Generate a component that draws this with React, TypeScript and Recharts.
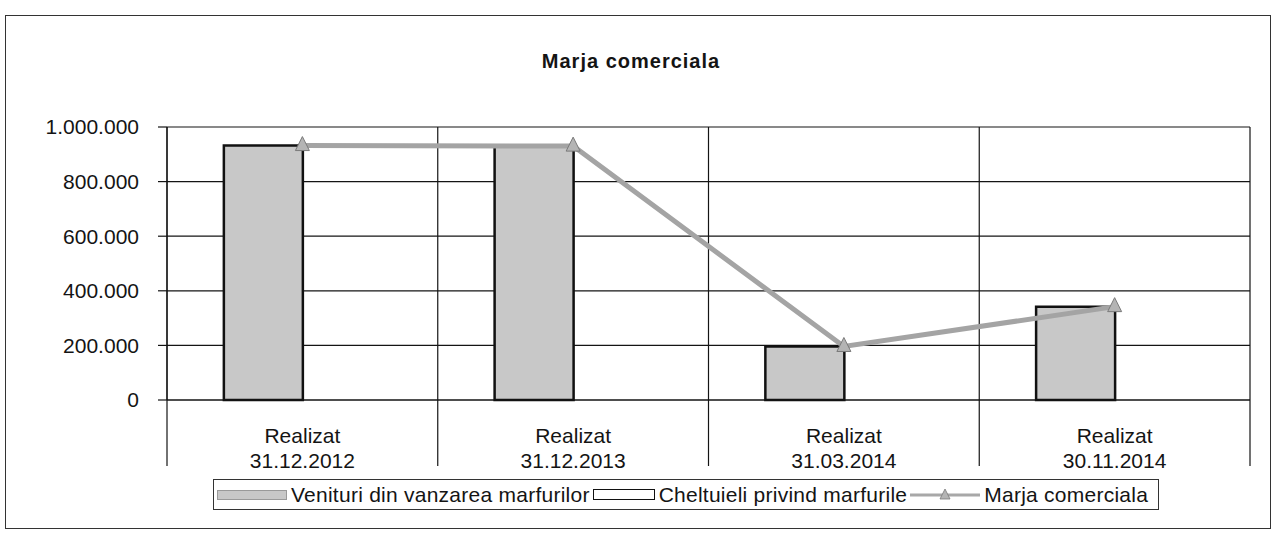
import React from 'react';
import { ComposedChart, Bar, Line, XAxis, YAxis, CartesianGrid } from 'recharts';

const chartTitle = 'Marja comerciala';
const categoryTop = ['Realizat', 'Realizat', 'Realizat', 'Realizat'];
const categoryDates = ['31.12.2012', '31.12.2013', '31.03.2014', '30.11.2014'];
const venituri = [932000, 930000, 196000, 342000];
const cheltuieli = [0, 0, 0, 0];
const marja = [932000, 930000, 196000, 342000];
const yTicks = [0, 200000, 400000, 600000, 800000, 1000000];
const seriesNames = ['Venituri din vanzarea marfurilor', 'Cheltuieli privind marfurile', 'Marja comerciala'];

const data = categoryDates.map((d, i) => ({
  name: d,
  top: categoryTop[i],
  venituri: venituri[i],
  cheltuieli: cheltuieli[i],
  marja: marja[i],
}));

const FONT = '"Liberation Sans", Arial, sans-serif';
const INK = '#141414';

const fmt = (v: number) => String(v).replace(/\B(?=(\d{3})+(?!\d))/g, '.');

const CategoryTick = (props: any) => {
  const { x, y, payload, index, width, visibleTicksCount } = props;
  const step = width / visibleTicksCount;
  const left = x - step / 2;
  const right = x + step / 2;
  return (
    <g>
      <line x1={left} x2={left} y1={y} y2={y + 66} stroke={INK} strokeWidth={1.2} />
      {index === visibleTicksCount - 1 && (
        <line x1={right} x2={right} y1={y} y2={y + 66} stroke={INK} strokeWidth={1.2} />
      )}
      <text x={x} y={y + 43} textAnchor="middle" fontSize={21} fill={INK} fontFamily={FONT}>
        {data[index] ? data[index].top : ''}
      </text>
      <text x={x} y={y + 68} textAnchor="middle" fontSize={21} fill={INK} fontFamily={FONT}>
        {payload.value}
      </text>
    </g>
  );
};

const TriangleDot = (props: any) => {
  const { cx, cy } = props;
  if (cx == null || cy == null) return null;
  return (
    <polygon
      points={`${cx},${cy - 9} ${cx - 7},${cy + 5} ${cx + 7},${cy + 5}`}
      fill="#b4b4b4"
      stroke="#7a7a7a"
      strokeWidth={1}
    />
  );
};

const LegendSwatch = ({ kind }: { kind: number }) => {
  if (kind === 0) {
    return (
      <span style={{ display: 'inline-block', width: 70, height: 10, background: '#c8c8c8', border: '1px solid #9a9a9a', boxSizing: 'border-box' }} />
    );
  }
  if (kind === 1) {
    return (
      <span style={{ display: 'inline-block', width: 62, height: 11, background: '#fff', border: '1.5px solid #111', boxSizing: 'border-box' }} />
    );
  }
  return (
    <svg width={70} height={14} style={{ display: 'inline-block' }}>
      <line x1={0} x2={70} y1={7} y2={7} stroke="#a8a8a8" strokeWidth={3} />
      <polygon points="35,1 30,11 40,11" fill="#b4b4b4" stroke="#7a7a7a" strokeWidth={0.8} />
    </svg>
  );
};

export default function App() {
  return (
    <div style={{ position: 'absolute', left: 0, top: 0, width: 1279, height: 542, background: '#fff', fontFamily: FONT }}>
      <div style={{ position: 'absolute', left: 5, top: 15, width: 1266, height: 514, border: '1px solid #333', boxSizing: 'border-box' }} />
      <div
        style={{
          position: 'absolute',
          left: 0,
          width: 1262,
          top: 48,
          textAlign: 'center',
          fontSize: 20,
          fontWeight: 'bold',
          letterSpacing: 1,
          color: INK,
          lineHeight: '26px',
        }}
      >
        {chartTitle}
      </div>
      <div style={{ position: 'absolute', left: 0, top: 0 }}>
        <ComposedChart
          width={1279}
          height={542}
          data={data}
          margin={{ top: 127, right: 29, bottom: 0, left: 107 }}
          barCategoryGap="21%"
          barGap={0}
        >
          <CartesianGrid
            stroke={INK}
            strokeWidth={1.2}
            verticalCoordinatesGenerator={({ offset }: any) =>
              Array.from({ length: data.length + 1 }, (_, i) => offset.left + (i * offset.width) / data.length)
            }
          />
          <XAxis
            dataKey="name"
            height={142}
            interval={0}
            tickSize={0}
            tickMargin={0}
            tickLine={false}
            axisLine={{ stroke: INK, strokeWidth: 1.2 }}
            tick={<CategoryTick />}
          />
          <YAxis
            width={60}
            domain={[0, 1000000]}
            ticks={yTicks}
            interval={0}
            tickFormatter={fmt}
            tickSize={9}
            tickMargin={19}
            tickLine={{ stroke: INK, strokeWidth: 1.2 }}
            axisLine={{ stroke: INK, strokeWidth: 1.2 }}
            tick={{ fill: INK, fontSize: 21, fontFamily: FONT }}
          />
          <Bar dataKey="venituri" name={seriesNames[0]} fill="#c8c8c8" stroke="#111" strokeWidth={2.5} isAnimationActive={false} />
          <Bar dataKey="cheltuieli" name={seriesNames[1]} fill="#ffffff" stroke="#111" strokeWidth={2.5} isAnimationActive={false} />
          <Line
            dataKey="marja"
            name={seriesNames[2]}
            type="linear"
            stroke="#a4a4a4"
            strokeWidth={5}
            dot={<TriangleDot />}
            activeDot={false}
            isAnimationActive={false}
          />
        </ComposedChart>
      </div>
      <div
        style={{
          position: 'absolute',
          left: 213,
          top: 479,
          height: 31,
          border: '1px solid #333',
          boxSizing: 'border-box',
          display: 'flex',
          alignItems: 'center',
          paddingLeft: 3,
          paddingRight: 10,
          fontSize: 21,
          letterSpacing: 0.25,
          color: INK,
          whiteSpace: 'nowrap',
        }}
      >
        {seriesNames.map((n, i) => (
          <span key={n} style={{ display: 'inline-flex', alignItems: 'center', marginLeft: i === 0 ? 0 : 3 }}>
            <LegendSwatch kind={i} />
            <span style={{ marginLeft: 4 }}>{n}</span>
          </span>
        ))}
      </div>
    </div>
  );
}
